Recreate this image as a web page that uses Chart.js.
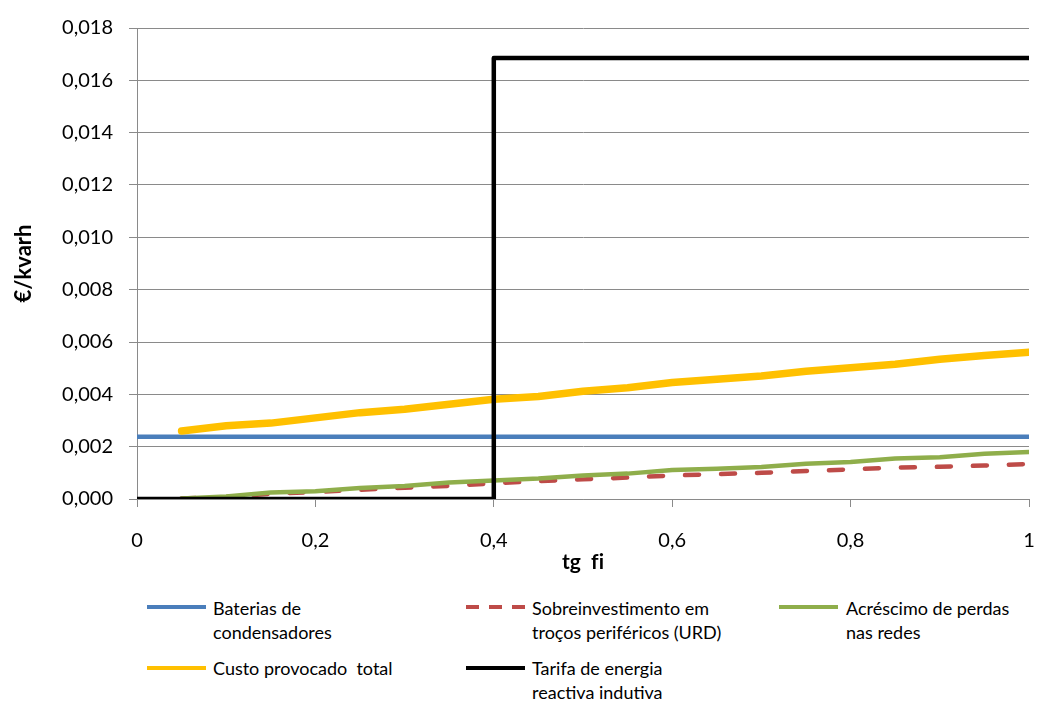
<!DOCTYPE html>
<html>
<head>
<meta charset="utf-8">
<script src="https://cdn.jsdelivr.net/npm/chart.js@4"></script>
<style>
  html, body { margin: 0; padding: 0; background: #ffffff; }
  #wrap { position: relative; width: 1037px; height: 702px; overflow: hidden; }
  #chartBox { position: absolute; left: 0; top: 0; width: 1037px; height: 590px; }
  .leg { position: absolute; font-family: Lato, "Open Sans", sans-serif; font-size: 18px; line-height: 24px; color: #000; white-space: nowrap; }
  .sw { position: absolute; height: 4px; }
</style>
</head>
<body>
<div id="wrap">
  <div id="chartBox"><canvas id="c" width="1037" height="590"></canvas></div>
  <div id="legend"></div>
</div>
<script>
// tg fi sample points (x axis)
const tgFi = [0.05, 0.10, 0.15, 0.20, 0.25, 0.30, 0.35, 0.40, 0.45, 0.50,
              0.55, 0.60, 0.65, 0.70, 0.75, 0.80, 0.85, 0.90, 0.95, 1.00];

// Baterias de condensadores (constant cost)
const bateriasX = [0, 1];
const bateriasY = [0.00238, 0.00238];

// Sobreinvestimento em troços periféricos (URD)
const sobreinvestimento = [0.00002, 0.00008, 0.00020, 0.00027, 0.00035, 0.00043, 0.00050, 0.00060, 0.00068, 0.00075,
                           0.00082, 0.00090, 0.00095, 0.00100, 0.00107, 0.00113, 0.00120, 0.00123, 0.00128, 0.00134];

// Acréscimo de perdas nas redes
const perdas = [0.00002, 0.00010, 0.00025, 0.00030, 0.00042, 0.00050, 0.00063, 0.00071, 0.00078, 0.00090,
                0.00097, 0.00111, 0.00116, 0.00122, 0.00135, 0.00141, 0.00155, 0.00160, 0.00173, 0.00180];

// Custo provocado total
const custoTotal = [0.00260, 0.00280, 0.00290, 0.00310, 0.00330, 0.00343, 0.00362, 0.00381, 0.00392, 0.00412,
                    0.00425, 0.00445, 0.00458, 0.00470, 0.00488, 0.00502, 0.00515, 0.00534, 0.00548, 0.00561];

// Tarifa de energia reactiva indutiva (step)
const tarifaX = [0, 0.4, 1];
const tarifaY = [0, 0.01685, 0.01685];

// Axis ticks
const xTicks = [0, 0.2, 0.4, 0.6, 0.8, 1];
const yMax = 0.018;
const yStep = 0.002;

const pts = (xs, ys) => xs.map((x, i) => ({ x: x, y: ys[i] }));

const series = [
  { label: 'Baterias de condensadores', color: '#4A7EBB', dash: [], width: 4.5, cap: 'butt', order: 4, data: pts(bateriasX, bateriasY) },
  { label: 'Sobreinvestimento em troços periféricos (URD)', color: '#BE4B48', dash: [14, 22], width: 4.5, cap: 'round', order: 3, data: pts(tgFi, sobreinvestimento) },
  { label: 'Acréscimo de perdas nas redes', color: '#8FAE4B', dash: [], width: 4.5, cap: 'round', order: 2, data: pts(tgFi, perdas) },
  { label: 'Custo provocado  total', color: '#FFC000', dash: [], width: 7.5, cap: 'round', order: 1, data: pts(tgFi, custoTotal) },
  { label: 'Tarifa de energia reactiva indutiva', color: '#000000', dash: [], width: 4.5, cap: 'round', order: 0, data: pts(tarifaX, tarifaY), stepped: 'before' }
];

const gridColor = '#8A8A8A';
const tickFont = { family: 'Lato, "Open Sans", sans-serif', size: 20 };
const titleFont = { family: 'Lato, "Open Sans", sans-serif', size: 21, weight: 'bold' };

new Chart(document.getElementById('c'), {
  type: 'line',
  data: {
    datasets: series.map(s => ({
      label: s.label,
      data: s.data,
      borderColor: s.color,
      backgroundColor: s.color,
      borderWidth: s.width,
      borderDash: s.dash,
      borderCapStyle: s.cap,
      borderJoinStyle: 'round',
      stepped: s.stepped || false,
      pointRadius: 0,
      fill: false,
      tension: 0,
      order: s.order
    }))
  },
  options: {
    responsive: false,
    animation: false,
    events: [],
    layout: { padding: { left: 0, right: 8, top: 27, bottom: 0 } },
    plugins: { legend: { display: false }, tooltip: { enabled: false } },
    scales: {
      x: {
        type: 'linear',
        min: 0,
        max: 1,
        afterBuildTicks: (axis) => { axis.ticks = xTicks.map(v => ({ value: v })); },
        afterFit: (axis) => { axis.height = 91; axis.paddingLeft = 0; axis.paddingRight = 0; },
        ticks: {
          font: tickFont,
          color: '#000',
          padding: 22,
          maxRotation: 0,
          callback: (v) => String(+(+v).toFixed(1)).replace('.', ',')
        },
        grid: { drawOnChartArea: false, drawTicks: true, tickLength: 8, color: gridColor, lineWidth: 1 },
        border: { display: true, color: gridColor, width: 1 },
        title: { display: true, text: 'tg  f\u200Ci', font: titleFont, color: '#000', padding: { top: 0, bottom: 15 } }
      },
      y: {
        type: 'linear',
        min: 0,
        max: yMax,
        afterFit: (axis) => { axis.width = 137; },
        ticks: {
          stepSize: yStep,
          font: tickFont,
          color: '#000',
          padding: 16,
          callback: (v) => (+v).toFixed(3).replace('.', ',')
        },
        grid: { drawOnChartArea: true, drawTicks: true, tickLength: 8, color: gridColor, lineWidth: 1 },
        border: { display: true, color: gridColor, width: 1 },
        title: { display: true, text: '€/kvarh', font: { family: titleFont.family, size: 22, weight: 'bold' }, color: '#000', padding: { top: 11, bottom: 0 } }
      }
    }
  }
});

// Legend laid out in three columns under the plot
const legendItems = [
  { si: 0, lines: ['Baterias de', 'condensadores'], sx: 147, tx: 213, y: 607, top: 595.5 },
  { si: 1, lines: ['Sobreinvestimento em', 'troços periféricos (URD)'], sx: 466, tx: 532, y: 607, top: 595.5 },
  { si: 2, lines: ['Acréscimo de perdas', 'nas redes'], sx: 779, tx: 846, y: 607, top: 595.5 },
  { si: 3, lines: ['Custo provocado  total'], sx: 147, tx: 213, y: 668, top: 655.5 },
  { si: 4, lines: ['Tarifa de energia', 'reactiva indutiva'], sx: 466, tx: 532, y: 668, top: 655.5 }
];
const legendEl = document.getElementById('legend');
legendItems.forEach(it => {
  const s = series[it.si];
  const sw = document.createElement('div');
  sw.className = 'sw';
  sw.style.left = it.sx + 'px';
  sw.style.top = (it.y - 2) + 'px';
  sw.style.width = '59px';
  if (s.dash.length) {
    sw.style.background = 'repeating-linear-gradient(to right, ' + s.color + ' 0 13px, transparent 13px 23px)';
  } else {
    sw.style.background = s.color;
  }
  legendEl.appendChild(sw);
  const t = document.createElement('div');
  t.className = 'leg';
  t.style.left = it.tx + 'px';
  t.style.top = it.top + 'px';
  t.innerHTML = it.lines.map(l => l.replace(/ {2}/g, ' &nbsp;')).join('<br>');
  legendEl.appendChild(t);
});
</script>
</body>
</html>
